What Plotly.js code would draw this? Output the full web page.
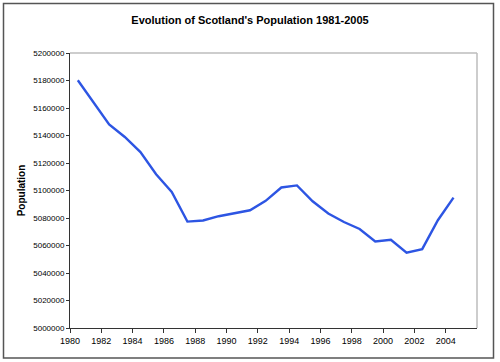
<!DOCTYPE html>
<html>
<head>
<meta charset="utf-8">
<script src="https://cdn.plot.ly/plotly-3.0.1.min.js"></script>
<style>
  html, body { margin: 0; padding: 0; background: #ffffff; }
  #chart { width: 500px; height: 362px; }
</style>
</head>
<body>
<div id="chart"></div>
<script>
// Mid-year population estimates for Scotland
const years = [1981, 1982, 1983, 1984, 1985, 1986, 1987, 1988, 1989, 1990,
               1991, 1992, 1993, 1994, 1995, 1996, 1997, 1998, 1999, 2000,
               2001, 2002, 2003, 2004, 2005];
const population = [5180200, 5164500, 5148100, 5138900, 5127900, 5111800, 5099000, 5077400, 5078200, 5081300,
                    5083300, 5085600, 5092500, 5102200, 5103700, 5092200, 5083300, 5077100, 5072000, 5062900,
                    5064200, 5054800, 5057400, 5078400, 5094800];
const xTickValues = [1980, 1982, 1984, 1986, 1988, 1990, 1992, 1994, 1996, 1998, 2000, 2002, 2004];
const yTickValues = [5000000, 5020000, 5040000, 5060000, 5080000, 5100000, 5120000, 5140000, 5160000, 5180000, 5200000];

// Excel-style category axis: each year is drawn in the middle of its slot
const xPositions = years.map(y => y - 0.5);

const trace = {
  x: xPositions,
  y: population,
  type: 'scatter',
  mode: 'lines',
  line: { color: '#2d55e3', width: 2.4 },
  hoverinfo: 'skip'
};

// plot area in pixels: left 70, right 477, top 53, bottom 328
const L = 70, R = 477, T = 53, B = 328, W = 500, H = 362;
const pw = R - L, ph = B - T;
const px = v => (v - L) / pw;
const py = v => (B - v) / ph;

const layout = {
  width: W, height: H,
  margin: { l: L, r: W - R, t: T, b: H - B },
  paper_bgcolor: '#ffffff',
  plot_bgcolor: '#ffffff',
  showlegend: false,
  font: { family: 'Liberation Sans, Arial, sans-serif', color: '#111111' },
  title: {
    text: "Evolution of Scotland's Population 1981-2005",
    font: { family: 'Liberation Sans, Arial, sans-serif', size: 11, color: '#000000', weight: 'bold' },
    x: 0.5, xanchor: 'center',
    y: 1 - 20 / H, yanchor: 'middle', yref: 'container'
  },
  xaxis: {
    range: [1980, 2006],
    tickmode: 'array',
    tickvals: xTickValues,
    ticktext: xTickValues.map(String),
    ticks: 'outside', ticklen: 4, tickwidth: 1, tickcolor: '#333333',
    showline: true, linecolor: '#333333', linewidth: 1,
    showgrid: false, zeroline: false,
    tickfont: { size: 9, color: '#000000' },
    fixedrange: true
  },
  yaxis: {
    range: [5000000, 5200000],
    tickmode: 'array',
    tickvals: yTickValues,
    ticktext: yTickValues.map(String),
    ticks: 'outside', ticklen: 3, tickwidth: 1, tickcolor: '#333333',
    showline: true, linecolor: '#333333', linewidth: 1,
    showgrid: false, zeroline: false,
    tickfont: { size: 8, color: '#000000' },
    title: {
      text: 'Population',
      font: { family: 'Liberation Sans, Arial, sans-serif', size: 10, color: '#000000', weight: 'bold' },
      standoff: 5
    },
    fixedrange: true
  },
  shapes: [
    // light grey plot-area border on top and right
    { type: 'line', xref: 'paper', yref: 'paper', x0: 0, x1: 1, y0: 1, y1: 1,
      line: { color: '#bdbdbd', width: 1.5 }, layer: 'below' },
    { type: 'line', xref: 'paper', yref: 'paper', x0: 1, x1: 1, y0: 0, y1: 1,
      line: { color: '#bdbdbd', width: 1.5 }, layer: 'below' },
    // outer chart frame
    { type: 'rect', xref: 'paper', yref: 'paper',
      x0: px(3.5), x1: px(493.5), y0: py(358), y1: py(3.5),
      line: { color: '#555555', width: 1.5 }, fillcolor: 'rgba(0,0,0,0)', layer: 'above' }
  ]
};

Plotly.newPlot('chart', [trace], layout, { staticPlot: true, displayModeBar: false });
</script>
</body>
</html>
